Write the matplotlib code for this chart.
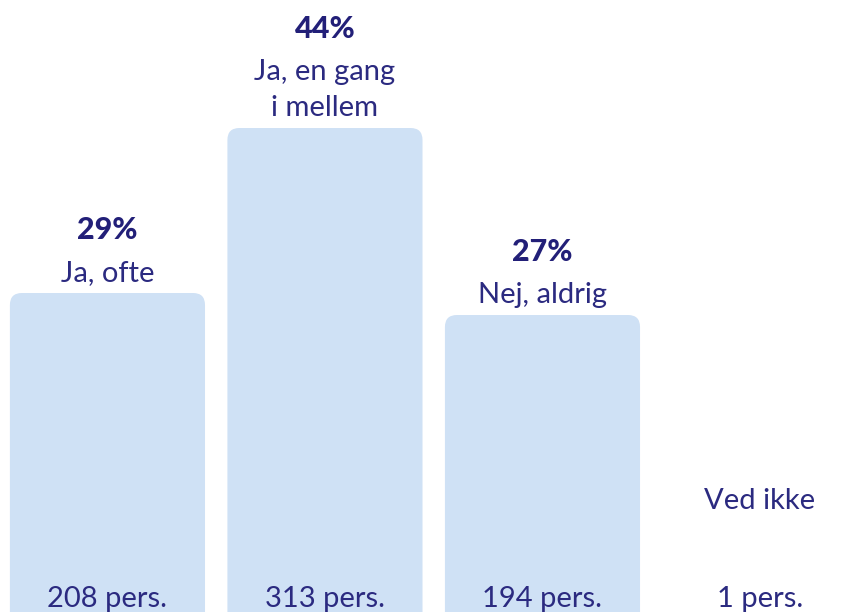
import matplotlib
matplotlib.use("Agg")
import matplotlib.pyplot as plt
from matplotlib.patches import FancyBboxPatch

categories = ["Ja, ofte", "Ja, en gang\ni mellem", "Nej, aldrig", "Ved ikke"]
percents = [29, 44, 27, 0]
counts = [208, 313, 194, 1]

BAR_COLOR = "#cfe1f5"
TEXT_COLOR = "#2b2a80"
PCT_COLOR = "#221f78"
FONT = "Lato"
SIZE = 21

fig = plt.figure(figsize=(8.47, 6.12), dpi=100)
ax = fig.add_axes([0, 0, 1, 1])
ax.set_xlim(-0.494, 3.40)
ax.set_ylim(0, 612 / 11)
ax.axis("off")

width = 0.897
# aspect between x and y units in pixels, so the corners look round
aspect = (217.5) / 11.0
radius = 12 / 217.5

for i, (cat, pct, n) in enumerate(zip(categories, percents, counts)):
    if pct > 0:
        box = FancyBboxPatch((i - width / 2, -5), width, pct + 5,
                             boxstyle=f"round,pad=0,rounding_size={radius}",
                             mutation_aspect=aspect,
                             facecolor=BAR_COLOR, edgecolor="none")
        ax.add_patch(box)
        lines = cat.split("\n")
        off = 12
        for line in reversed(lines):
            ax.annotate(line, (i, pct), xytext=(0, off * 0.72), textcoords="offset points",
                        ha="center", va="baseline", color=TEXT_COLOR,
                        fontsize=SIZE, family=FONT)
            off += 36
        off += 6
        ax.annotate(f"{pct}%", (i, pct), xytext=(0, off * 0.72), textcoords="offset points",
                    ha="center", va="baseline", color=PCT_COLOR,
                    fontsize=SIZE + 1, family=FONT, fontweight="black")
    else:
        # no bar: only the label
        ax.text(i, (612 - 509) / 11, cat, ha="center", va="baseline",
                color=TEXT_COLOR, fontsize=SIZE, family=FONT)

    ax.annotate(f"{n} pers.", (i, 0), xytext=(0, 5 * 0.72), textcoords="offset points",
                ha="center", va="baseline", color=TEXT_COLOR,
                fontsize=SIZE, family=FONT)

fig.savefig("out.png", dpi=100)
